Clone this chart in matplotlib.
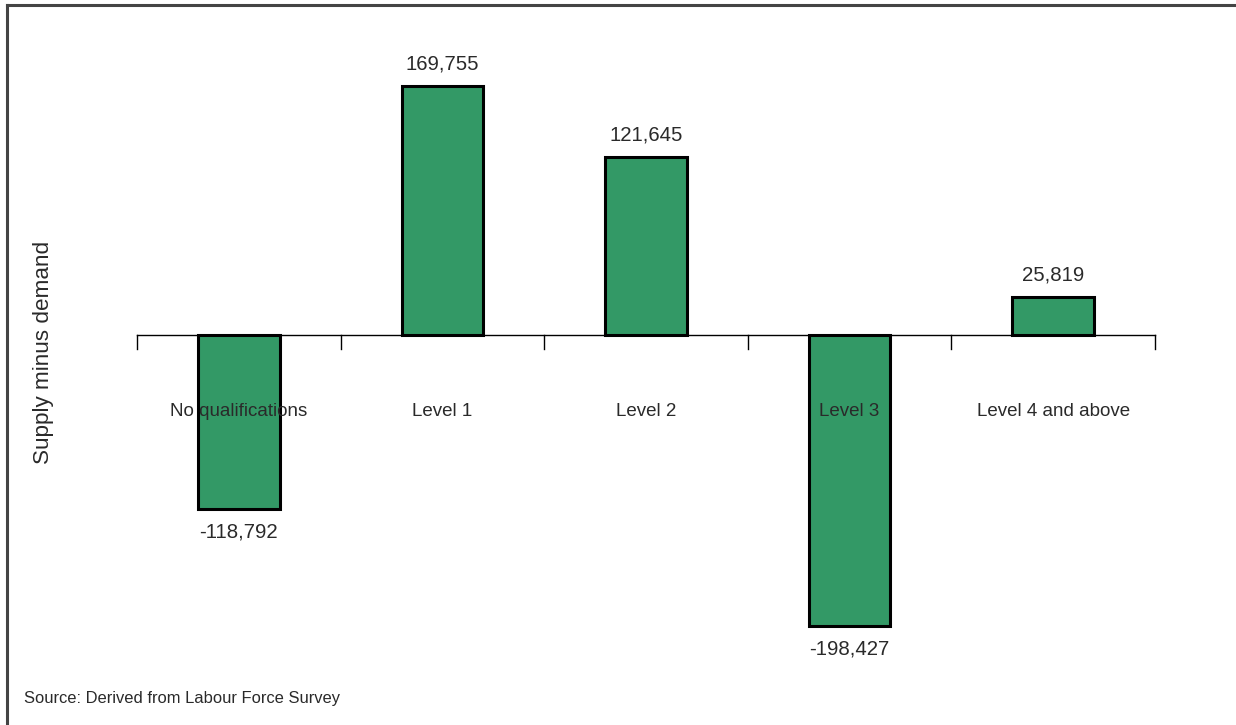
import matplotlib
matplotlib.use("Agg")
import matplotlib.pyplot as plt
from matplotlib.lines import Line2D

plt.rcParams['font.family'] = ['Liberation Sans', 'DejaVu Sans']

categorias = ["No qualifications", "Level 1", "Level 2", "Level 3", "Level 4 and above"]
valores = [-118792, 169755, 121645, -198427, 25819]
rotulos = ["-118,792", "169,755", "121,645", "-198,427", "25,819"]

VERDE = "#339966"
TEXTO = "#2a2a2a"

fig = plt.figure(figsize=(12.36, 7.25), dpi=100)
W, H = 1236, 725

# eixo: x 137..1155 px, y 40..660 px (linha do zero em y=335)
ax = fig.add_axes([137 / W, 1 - 660 / H, (1155 - 137) / W, 620 / H])
px = 681.7
ax.set_xlim(-0.5, 4.5)
ax.set_ylim(-(660 - 335) * px, (335 - 40) * px)

x = list(range(len(categorias)))
ax.bar(x, valores, width=0.4, color=VERDE, edgecolor="black", linewidth=2.2, zorder=3)

ax.plot([-0.5, 4.5], [0, 0], color="black", linewidth=1.0, zorder=2, clip_on=False)
for t in [i - 0.5 for i in range(len(categorias) + 1)]:
    ax.plot([t, t], [0, -14 * px], color="black", linewidth=1.0, zorder=2, clip_on=False)

for i, nome in enumerate(categorias):
    ax.text(i, -76 * px, nome, ha="center", va="center", fontsize=13.5, color=TEXTO, zorder=4)

for i, (v, r) in enumerate(zip(valores, rotulos)):
    if v >= 0:
        ax.text(i, v + 22 * px, r, ha="center", va="center", fontsize=14.7, color=TEXTO)
    else:
        ax.text(i, v - 23 * px, r, ha="center", va="center", fontsize=14.7, color=TEXTO)

ax.set_axis_off()

fig.text(43 / W, 1 - 352 / H, "Supply minus demand", rotation=90, ha="center", va="center",
         fontsize=16.2, color=TEXTO)
fig.text(24 / W, 1 - 698 / H, "Source: Derived from Labour Force Survey", ha="left", va="center",
         fontsize=11.9, color=TEXTO)

# moldura (apenas topo e esquerda)
fig.add_artist(Line2D([7 / W, 1], [1 - 5 / H, 1 - 5 / H], color="#444444", linewidth=2.2,
                      transform=fig.transFigure))
fig.add_artist(Line2D([7 / W, 7 / W], [0, 1 - 5 / H], color="#444444", linewidth=2.2,
                      transform=fig.transFigure))

fig.savefig("out.png", dpi=100)
